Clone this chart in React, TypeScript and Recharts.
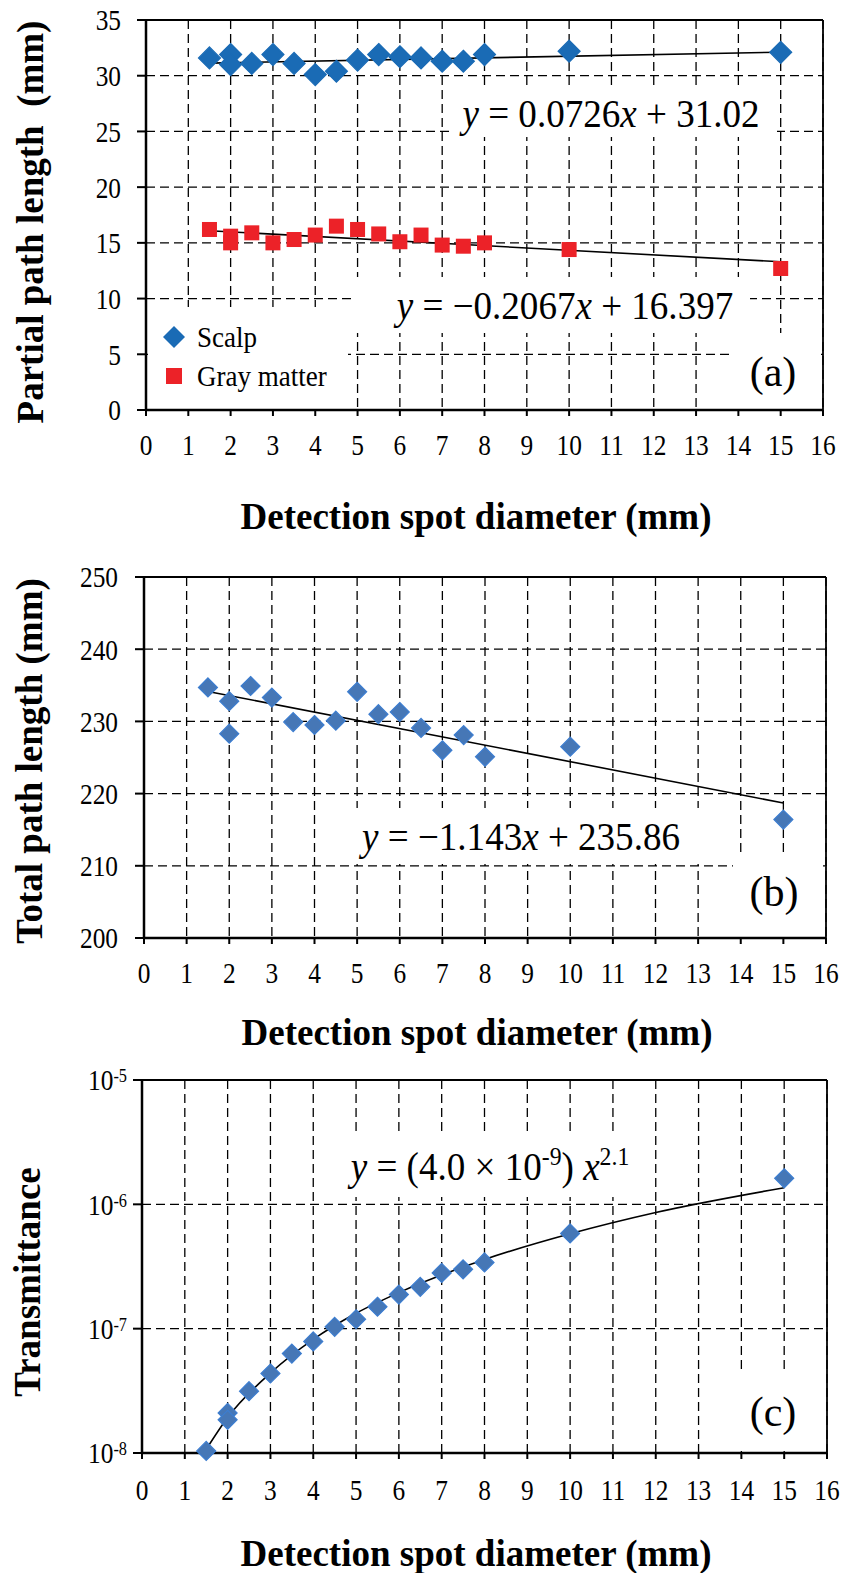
import React from 'react';
import { ComposedChart, Scatter, Line, XAxis, YAxis, CartesianGrid, ReferenceLine } from 'recharts';

const SERIF = '"Liberation Serif", "Times New Roman", Times, serif';

// x axis (shared by the three panels)
const xTicks = [0, 1, 2, 3, 4, 5, 6, 7, 8, 9, 10, 11, 12, 13, 14, 15, 16];

// (a) partial path length
const partialTicks = [0, 5, 10, 15, 20, 25, 30, 35];
const diameters = [1.5, 2, 2, 2.5, 3, 3.5, 4, 4.5, 5, 5.5, 6, 6.5, 7, 7.5, 8, 10, 15];
const scalp = [31.6, 31.9, 31.0, 31.1, 31.9, 31.1, 30.1, 30.4, 31.4, 31.9, 31.7, 31.6, 31.3, 31.3, 31.9, 32.2, 32.1];
const grayMatter = [16.2, 15.6, 15.0, 15.9, 15.0, 15.3, 15.7, 16.5, 16.2, 15.8, 15.1, 15.7, 14.8, 14.7, 15.0, 14.4, 12.7];
const fitEnds = [1.5, 15];
const scalpFit = [31.13, 32.11];
const grayFit = [16.09, 13.3];

// (b) total path length
const totalTicks = [200, 210, 220, 230, 240, 250];
const totalPath = [234.7, 232.8, 228.3, 234.9, 233.3, 229.9, 229.5, 230.1, 234.1, 231.0, 231.3, 229.1, 226.0, 228.1, 225.1, 226.5, 216.4];
const totalFit = [234.15, 218.7];

// (c) transmittance (log axis)
const transTicks = [1e-8, 1e-7, 1e-6, 1e-5];
const transmittance = [1.04e-8, 2.1e-8, 1.85e-8, 3.14e-8, 4.36e-8, 6.3e-8, 7.9e-8, 1.035e-7, 1.19e-7, 1.5e-7, 1.88e-7, 2.17e-7, 2.81e-7, 3.0e-7, 3.41e-7, 5.84e-7, 1.62e-6];
const powerFitX = [1.5, 2, 3, 4, 5, 6, 8, 10, 12, 15];
const powerFitY = [1.07e-8, 1.93e-8, 4.4e-8, 8.2e-8, 1.33e-7, 1.95e-7, 3.6e-7, 5.8e-7, 8.6e-7, 1.36e-6];

const toPoints = (xs: number[], ys: number[]) => xs.map((x, i) => ({ x, y: ys[i] }));

const SCALP = '#1A6BB5';
const GRAY = '#EC2228';
const STEEL = '#4677B6';
const STEEL_EDGE = '#3C7DD0';

// the source uses a narrow Times, so numbers are squeezed sideways a bit
const SQUEEZE = 0.86;

const diamond = (r: number, fill: string, stroke: string) => (props: any) => {
  const { cx, cy } = props;
  if (cx == null || cy == null) return null;
  return (
    <polygon
      points={`${cx},${cy - r} ${cx + r},${cy} ${cx},${cy + r} ${cx - r},${cy}`}
      fill={fill}
      stroke={stroke}
      strokeWidth={1.2}
    />
  );
};

const square = (h: number, fill: string) => (props: any) => {
  const { cx, cy } = props;
  if (cx == null || cy == null) return null;
  return <rect x={cx - h} y={cy - h} width={h * 2} height={h * 2} fill={fill} />;
};

const XTick = (props: any) => {
  const { x, y, payload } = props;
  return (
    <g transform={`translate(${x},${y}) scale(${SQUEEZE},1)`}>
      <text x={0} y={0} dy="0.71em" textAnchor="middle" fontFamily={SERIF} fontSize={29.5} fill="#000">
        {payload.value}
      </text>
    </g>
  );
};

const YTick = (props: any) => {
  const { x, y, payload } = props;
  return (
    <g transform={`translate(${x},${y}) scale(${SQUEEZE},1)`}>
      <text x={0} y={0} dy="0.355em" textAnchor="end" fontFamily={SERIF} fontSize={29.5} fill="#000">
        {payload.value}
      </text>
    </g>
  );
};

const PowerTick = (props: any) => {
  const { x, y, payload } = props;
  const exp = Math.round(Math.log10(payload.value));
  return (
    <g transform={`translate(${x},${y}) scale(${SQUEEZE},1)`}>
      <text x={0} y={0} textAnchor="end" fontFamily={SERIF} fontSize={29.5} fill="#000">
        <tspan dy="0.355em">10</tspan>
        <tspan dy={-8} fontSize={19}>{String(exp)}</tspan>
      </text>
    </g>
  );
};

const gridProps = { stroke: '#000', strokeDasharray: '9 5', strokeWidth: 1.3 };

const abs = (left: number, top: number): React.CSSProperties => ({ position: 'absolute', left, top });

const WhiteBox = ({ l, t, r, b }: { l: number; t: number; r: number; b: number }) => (
  <div style={{ ...abs(l, t), width: r - l, height: b - t, background: '#fff' }} />
);

const Centered = ({ x, y, size, bold, rotate, sx = 1, children }: any) => (
  <div
    style={{
      ...abs(x, y),
      transform: `translate(-50%, -50%)${rotate ? ' rotate(-90deg)' : ''} scale(${sx}, 1)`,
      fontFamily: SERIF,
      fontSize: size,
      fontWeight: bold ? 'bold' : 'normal',
      lineHeight: 1,
      whiteSpace: 'nowrap',
      color: '#000',
    }}
  >
    {children}
  </div>
);

const LegendText = ({ x, y, children }: any) => (
  <div
    style={{
      ...abs(x, y),
      transform: 'translateY(-50%) scale(0.9, 1)',
      transformOrigin: 'left center',
      fontFamily: SERIF,
      fontSize: 30,
      lineHeight: 1,
      whiteSpace: 'nowrap',
    }}
  >
    {children}
  </div>
);

const I = ({ children }: any) => <span style={{ fontStyle: 'italic' }}>{children}</span>;
const Sup = ({ children }: any) => (
  <span style={{ fontSize: 25, position: 'relative', top: -15 }}>{children}</span>
);

const xAxisCommon = {
  dataKey: 'x',
  type: 'number' as const,
  domain: [0, 16],
  ticks: xTicks,
  interval: 0 as const,
  height: 40,
  tickSize: 6,
  tick: <XTick />,
  axisLine: { stroke: '#000', strokeWidth: 2.5 },
  tickLine: { stroke: '#000', strokeWidth: 2 },
};

const yAxisLines = {
  axisLine: { stroke: '#000', strokeWidth: 2.5 },
  tickLine: { stroke: '#000', strokeWidth: 2 },
};

const App = () => {
  return (
    <div style={{ position: 'absolute', left: 0, top: 0, width: 843, height: 1573, background: '#fff' }}>
      {/* (a) */}
      <div style={abs(0, 0)}>
        <ComposedChart width={843} height={540} margin={{ top: 20, right: 20, bottom: 90, left: 0 }}>
          <CartesianGrid {...gridProps} />
          <XAxis {...xAxisCommon} tickMargin={18} />
          <YAxis
            dataKey="y"
            type="number"
            domain={[0, 35]}
            ticks={partialTicks}
            interval={0}
            width={146}
            tickSize={9}
            tickMargin={16}
            tick={<YTick />}
            {...yAxisLines}
          />
          <ReferenceLine y={35} stroke="#000" strokeWidth={1.8} />
          <ReferenceLine x={16} stroke="#000" strokeWidth={1.8} />
          <Scatter data={toPoints(diameters, scalp)} dataKey="y" shape={diamond(11, SCALP, SCALP)} isAnimationActive={false} />
          <Scatter data={toPoints(diameters, grayMatter)} dataKey="y" shape={square(7.5, GRAY)} isAnimationActive={false} />
          <Line data={toPoints(fitEnds, scalpFit)} dataKey="y" type="linear" stroke="#000" strokeWidth={1.6} dot={false} isAnimationActive={false} />
          <Line data={toPoints(fitEnds, grayFit)} dataKey="y" type="linear" stroke="#000" strokeWidth={1.6} dot={false} isAnimationActive={false} />
        </ComposedChart>
      </div>

      {/* (b) */}
      <div style={abs(0, 540)}>
        <ComposedChart width={843} height={520} margin={{ top: 37, right: 17, bottom: 82, left: 0 }}>
          <CartesianGrid {...gridProps} />
          <XAxis {...xAxisCommon} tickMargin={18} />
          <YAxis
            dataKey="y"
            type="number"
            domain={[200, 250]}
            ticks={totalTicks}
            interval={0}
            width={144}
            tickSize={9}
            tickMargin={17}
            tick={<YTick />}
            {...yAxisLines}
          />
          <ReferenceLine y={250} stroke="#000" strokeWidth={1.8} />
          <ReferenceLine x={16} stroke="#000" strokeWidth={1.8} />
          <Scatter data={toPoints(diameters, totalPath)} dataKey="y" shape={diamond(9.5, STEEL, STEEL_EDGE)} isAnimationActive={false} />
          <Line data={toPoints(fitEnds, totalFit)} dataKey="y" type="linear" stroke="#000" strokeWidth={1.6} dot={false} isAnimationActive={false} />
        </ComposedChart>
      </div>

      {/* (c) */}
      <div style={abs(0, 1060)}>
        <ComposedChart width={843} height={513} margin={{ top: 20, right: 16, bottom: 80, left: 0 }}>
          <CartesianGrid {...gridProps} />
          <XAxis {...xAxisCommon} tickMargin={20} />
          <YAxis
            dataKey="y"
            type="number"
            scale="log"
            domain={[1e-8, 1e-5]}
            ticks={transTicks}
            interval={0}
            width={142}
            tickSize={9}
            tickMargin={6}
            tick={<PowerTick />}
            {...yAxisLines}
          />
          <ReferenceLine y={1e-5} stroke="#000" strokeWidth={1.8} />
          <ReferenceLine x={16} stroke="#000" strokeWidth={1.8} />
          <Scatter data={toPoints(diameters, transmittance)} dataKey="y" shape={diamond(9.5, STEEL, STEEL_EDGE)} isAnimationActive={false} />
          <Line data={toPoints(powerFitX, powerFitY)} dataKey="y" type="monotone" stroke="#000" strokeWidth={1.6} dot={false} isAnimationActive={false} />
        </ComposedChart>
      </div>

      {/* axis titles */}
      <Centered x={30} y={222} size={37} bold rotate>Partial path length&nbsp; (mm)</Centered>
      <Centered x={476} y={516} size={37} bold>Detection spot diameter (mm)</Centered>
      <Centered x={29} y={761} size={37} bold rotate>Total path length (mm)</Centered>
      <Centered x={477} y={1032} size={37} bold>Detection spot diameter (mm)</Centered>
      <Centered x={27} y={1282} size={37} bold rotate>Transmittance</Centered>
      <Centered x={476} y={1553} size={37} bold>Detection spot diameter (mm)</Centered>

      {/* (a) annotations */}
      <WhiteBox l={453} t={87} r={777} b={137} />
      <Centered x={611} y={113} size={39} sx={0.95}><I>y</I> = 0.0726<I>x</I> + 31.02</Centered>
      <WhiteBox l={355} t={277} r={750} b={333} />
      <Centered x={565} y={305} size={39} sx={0.95}><I>y</I> = −0.2067<I>x</I> + 16.397</Centered>
      <WhiteBox l={733} t={333} r={821} b={408} />
      <Centered x={773} y={372} size={42}>(a)</Centered>
      <WhiteBox l={148} t={307} r={348} b={408} />
      <svg style={abs(160, 323)} width={28} height={28}>
        <polygon points="14,3 25,14 14,25 3,14" fill={SCALP} />
      </svg>
      <LegendText x={197} y={337}>Scalp</LegendText>
      <svg style={abs(166, 368)} width={16} height={16}>
        <rect x={0} y={0} width={16} height={16} fill={GRAY} />
      </svg>
      <LegendText x={197} y={376}>Gray matter</LegendText>

      {/* (b) annotations */}
      <WhiteBox l={335} t={808} r={740} b={864} />
      <Centered x={521} y={836} size={39} sx={0.95}><I>y</I> = −1.143<I>x</I> + 235.86</Centered>
      <WhiteBox l={733} t={853} r={823} b={936} />
      <Centered x={774} y={892} size={42}>(b)</Centered>

      {/* (c) annotations */}
      <WhiteBox l={338} t={1133} r={640} b={1197} />
      <Centered x={490} y={1166} size={39} sx={0.95}>
        <I>y</I> = (4.0 × 10<Sup>-9</Sup>) <I>x</I><Sup>2.1</Sup>
      </Centered>
      <WhiteBox l={733} t={1373} r={825} b={1451} />
      <Centered x={773} y={1412} size={42}>(c)</Centered>
    </div>
  );
};

export default App;
